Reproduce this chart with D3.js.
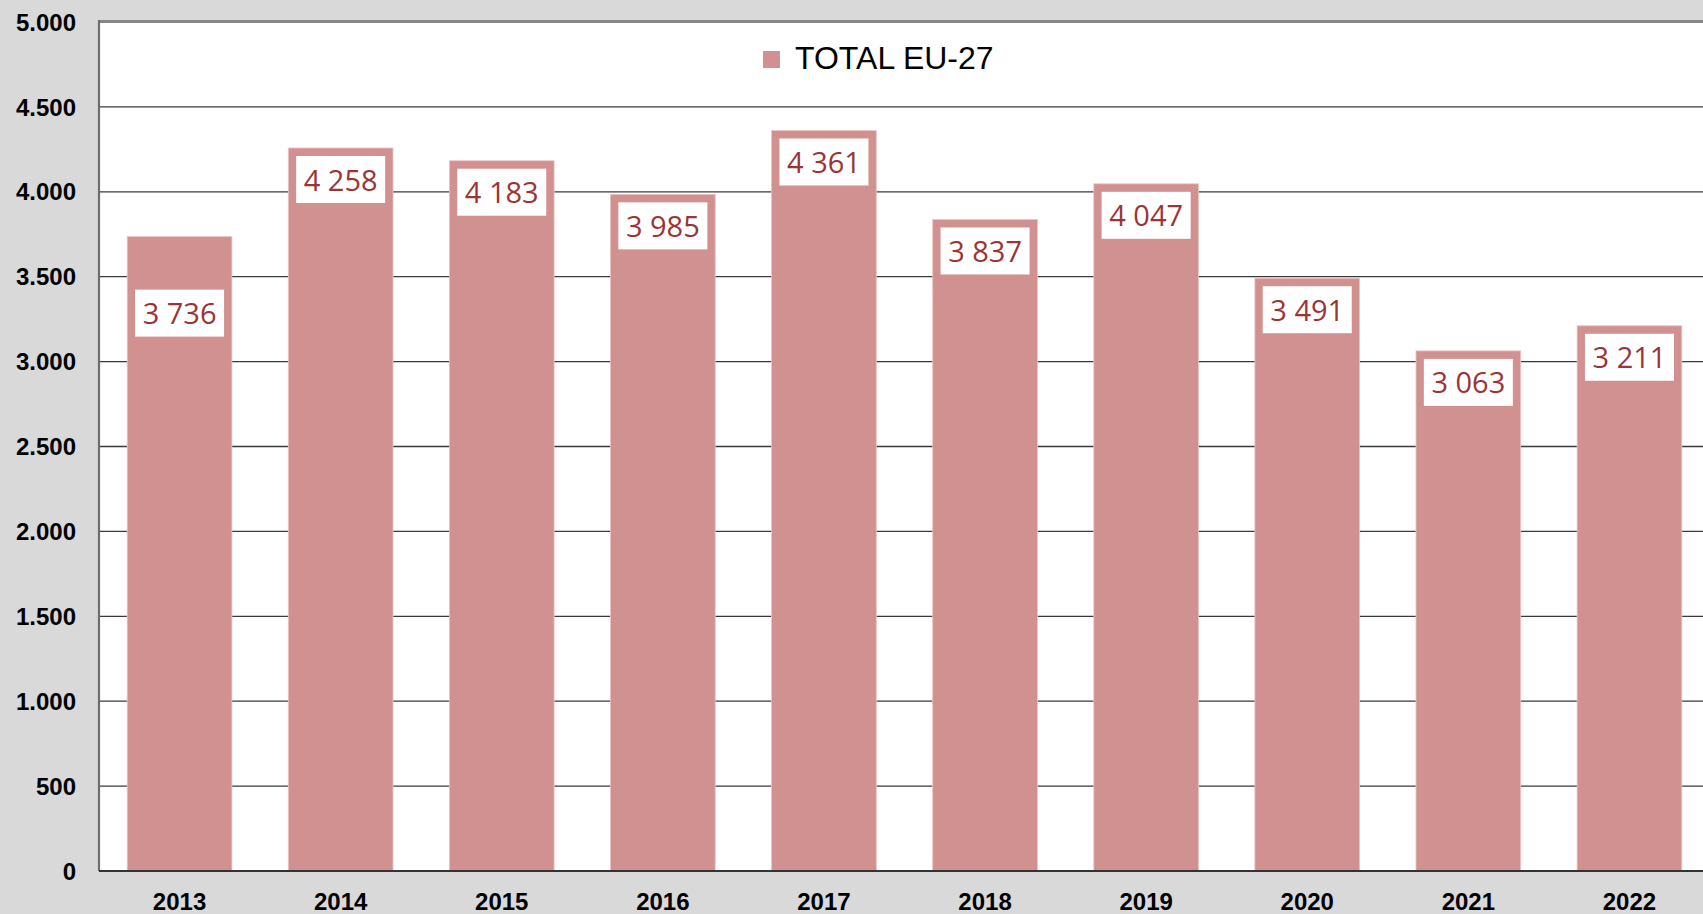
<!DOCTYPE html>
<html>
<head>
<meta charset="utf-8">
<script src="https://cdn.jsdelivr.net/npm/d3@7/dist/d3.min.js"></script>
<style>
  html, body { margin: 0; padding: 0; background: #d9d9d9; overflow: hidden; }
  svg { display: block; }
</style>
</head>
<body>
<svg id="chart" width="1703" height="914"></svg>
<script>
// ---- Data ----
const categories = ["2013", "2014", "2015", "2016", "2017", "2018", "2019", "2020", "2021", "2022"];
const values = [3736, 4258, 4183, 3985, 4361, 3837, 4047, 3491, 3063, 3211];
const valueLabels = ["3 736", "4 258", "4 183", "3 985", "4 361", "3 837", "4 047", "3 491", "3 063", "3 211"];
const yTicks = [0, 500, 1000, 1500, 2000, 2500, 3000, 3500, 4000, 4500, 5000];
const yTickLabels = ["0", "500", "1.000", "1.500", "2.000", "2.500", "3.000", "3.500", "4.000", "4.500", "5.000"];
const seriesName = "TOTAL EU-27";

// ---- Layout ----
const W = 1703, H = 914;
const plot = { left: 99, right: 1710, top: 22, bottom: 871 };
const barColor = "#d29191";
const labelColor = "#9b3535";

const svg = d3.select("#chart");

svg.append("rect").attr("x", 0).attr("y", 0).attr("width", W).attr("height", H).attr("fill", "#d9d9d9");
svg.append("rect")
  .attr("x", plot.left).attr("y", plot.top)
  .attr("width", W - plot.left).attr("height", plot.bottom - plot.top)
  .attr("fill", "#ffffff");

const x = d3.scaleBand().domain(categories).range([plot.left, plot.right]).paddingInner(0.35).paddingOuter(0.175);
const y = d3.scaleLinear().domain([0, 5000]).range([plot.bottom, plot.top]);

// gridlines
svg.append("g").selectAll("line")
  .data(yTicks.filter(t => t > 0 && t < 5000))
  .join("line")
  .attr("x1", plot.left).attr("x2", W)
  .attr("y1", d => y(d)).attr("y2", d => y(d))
  .attr("stroke", "#3a3a3a").attr("stroke-width", 1.3);

// top border
svg.append("line").attr("x1", plot.left).attr("x2", W)
  .attr("y1", plot.top - 0.5).attr("y2", plot.top - 0.5)
  .attr("stroke", "#868686").attr("stroke-width", 3);

// bars
svg.append("g").selectAll("rect")
  .data(categories)
  .join("rect")
  .attr("x", d => x(d))
  .attr("width", x.bandwidth())
  .attr("y", (d, i) => y(values[i]))
  .attr("height", (d, i) => y(0) - y(values[i]))
  .attr("fill", barColor)
  .attr("stroke", "#ecc4c4").attr("stroke-width", 0.8);

// left axis line
svg.append("line").attr("x1", plot.left).attr("x2", plot.left)
  .attr("y1", plot.top - 2).attr("y2", plot.bottom)
  .attr("stroke", "#6e6e6e").attr("stroke-width", 2.2);
// bottom axis line
svg.append("line").attr("x1", plot.left).attr("x2", W)
  .attr("y1", plot.bottom).attr("y2", plot.bottom)
  .attr("stroke", "#333333").attr("stroke-width", 2.2);

// y axis tick labels
const yAxis = d3.axisLeft(y).tickValues(yTicks).tickSize(0).tickPadding(23)
  .tickFormat((d, i) => yTickLabels[i]);
const gy = svg.append("g").attr("transform", `translate(${plot.left},0)`).call(yAxis);
gy.select(".domain").remove();
gy.selectAll("text")
  .attr("font-family", "Liberation Sans, Arial, sans-serif")
  .attr("font-weight", "bold").attr("font-size", 24).attr("fill", "#000")
  .attr("dy", "0.34em");

// x axis labels
const xAxis = d3.axisBottom(x).tickSize(0).tickPadding(0);
const gx = svg.append("g").attr("transform", `translate(0,${plot.bottom})`).call(xAxis);
gx.select(".domain").remove();
gx.selectAll("text")
  .attr("font-family", "Liberation Sans, Arial, sans-serif")
  .attr("font-weight", "bold").attr("font-size", 24).attr("fill", "#000")
  .attr("dy", null).attr("y", 39);

// value labels
const boxW = 89, boxH = 47, boxGap = 8;
const labelDropOverride = { "2013": 53 };
const lg = svg.append("g").selectAll("g")
  .data(categories)
  .join("g")
  .attr("transform", (d, i) => {
    const cx = x(d) + x.bandwidth() / 2;
    const top = y(values[i]) + (labelDropOverride[d] !== undefined ? labelDropOverride[d] : boxGap);
    return `translate(${cx},${top})`;
  });
lg.append("rect")
  .attr("x", -boxW / 2).attr("y", 0)
  .attr("width", boxW).attr("height", boxH)
  .attr("fill", "#ffffff");
lg.append("text")
  .attr("x", 0).attr("y", boxH / 2)
  .attr("dy", "0.38em")
  .attr("text-anchor", "middle")
  .attr("font-family", "Open Sans, Noto Sans, sans-serif")
  .attr("font-size", 29)
  .attr("fill", labelColor)
  .text((d, i) => valueLabels[i]);

// legend
const legend = svg.append("g").attr("transform", "translate(763,51)");
legend.append("rect").attr("width", 17).attr("height", 17).attr("fill", barColor);
legend.append("text").attr("x", 32).attr("y", 18)
  .attr("font-family", "Liberation Sans, Arial, sans-serif")
  .attr("font-size", 32).attr("fill", "#000")
  .text(seriesName);
</script>
</body>
</html>
